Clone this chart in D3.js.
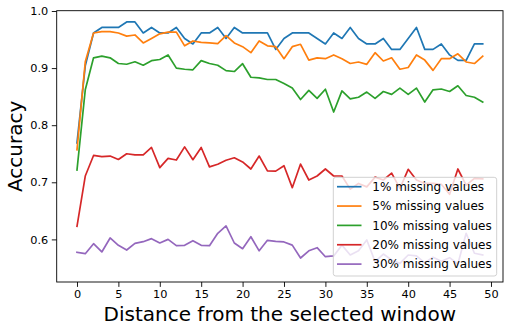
<!DOCTYPE html>
<html>
<head>
<meta charset="utf-8">
<script src="https://cdn.jsdelivr.net/npm/d3@7"></script>
<style>
  body { margin: 0; background: #fff; }
  svg { display: block; font-family: "DejaVu Sans", sans-serif; }
</style>
</head>
<body>
<div id="chartContainer"></div>
<script>
var distance = [0,1,2,3,4,5,6,7,8,9,10,11,12,13,14,15,16,17,18,19,20,21,22,23,24,
                25,26,27,28,29,30,31,32,33,34,35,36,37,38,39,40,41,42,43,44,45,46,47,48,49];

var missing1 = [0.769,0.904,0.9615,0.9712,0.9712,0.9712,0.9808,0.9808,0.9615,0.9712,
                0.9615,0.9615,0.9712,0.9519,0.9423,0.9615,0.9615,0.9712,0.9519,0.9712,
                0.9615,0.9615,0.9615,0.9615,0.9327,0.9519,0.9615,0.9615,0.9615,0.9519,
                0.9423,0.9615,0.9519,0.9712,0.9519,0.9423,0.9423,0.9519,0.9327,0.9327,
                0.9519,0.9712,0.9327,0.9327,0.9423,0.9231,0.9135,0.9135,0.9423,0.9423];
var missing5 = [0.757,0.911,0.9615,0.964,0.964,0.9615,0.956,0.958,0.944,0.952,
                0.960,0.963,0.963,0.939,0.9475,0.945,0.944,0.943,0.957,0.944,
                0.9375,0.927,0.9475,0.939,0.9375,0.9165,0.9375,0.9417,0.914,0.918,
                0.9165,0.923,0.9165,0.908,0.9107,0.9066,0.927,0.9124,0.918,0.898,
                0.901,0.923,0.914,0.896,0.9165,0.9165,0.925,0.9107,0.908,0.921];
var missing10 = [0.7215,0.862,0.918,0.921,0.918,0.908,0.9067,0.911,0.905,0.913,
                 0.915,0.923,0.900,0.898,0.897,0.913,0.908,0.905,0.8955,0.894,
                 0.9077,0.884,0.883,0.880,0.880,0.873,0.865,0.845,0.861,0.847,
                 0.863,0.823,0.860,0.846,0.849,0.858,0.847,0.859,0.854,0.865,
                 0.854,0.865,0.8406,0.862,0.8634,0.859,0.869,0.852,0.849,0.8406];
var missing20 = [0.623,0.711,0.747,0.745,0.746,0.740,0.750,0.748,0.748,0.761,
                 0.7256,0.742,0.739,0.762,0.7396,0.761,0.727,0.7315,0.7385,0.743,
                 0.7356,0.7233,0.746,0.720,0.7195,0.729,0.6906,0.732,0.704,0.711,
                 0.7233,0.711,0.711,0.688,0.698,0.692,0.709,0.704,0.716,0.6895,
                 0.7227,0.704,0.698,0.698,0.6965,0.679,0.7233,0.695,0.707,0.706];
var missing30 = [0.5774,0.575,0.5925,0.578,0.6025,0.5897,0.5814,0.593,0.596,0.6013,
                 0.5937,0.600,0.589,0.5897,0.5977,0.5897,0.589,0.6107,0.6235,0.5937,
                 0.5837,0.6047,0.580,0.5984,0.5967,0.5955,0.590,0.5674,0.580,0.5855,
                 0.5697,0.571,0.590,0.5727,0.580,0.599,0.561,0.5744,0.564,0.558,
                 0.5727,0.571,0.559,0.5687,0.5617,0.568,0.557,0.6107,0.5757,0.5727];

var seriesNames = ["1% missing values", "5% missing values", "10% missing values",
                   "20% missing values", "30% missing values"];
var xTicks = [0, 5, 10, 15, 20, 25, 30, 35, 40, 45, 50];
var yTicks = [0.6, 0.7, 0.8, 0.9, 1.0];

var colors = ["#1f77b4", "#ff7f0e", "#2ca02c", "#d62728", "#9467bd"];
var allSeries = [missing1, missing5, missing10, missing20, missing30];

var width = 509, height = 332;
var plotLeft = 56.7, plotRight = 503, plotTop = 10.7, plotBottom = 282;

var svg = d3.select("#chartContainer").append("svg")
    .attr("width", width)
    .attr("height", height);

var x = d3.scaleLinear().domain([-2.45, 51.45]).range([plotLeft, plotRight]);
var y = d3.scaleLinear().domain([0.5254, 1.0005]).range([plotBottom, plotTop]);

// lines
var line = d3.line()
    .x(function (d, i) { return x(distance[i]); })
    .y(function (d) { return y(d); });

svg.append("g").selectAll("path")
    .data(allSeries)
    .enter().append("path")
    .attr("d", line)
    .attr("fill", "none")
    .attr("stroke", function (d, i) { return colors[i]; })
    .attr("stroke-width", 1.7)
    .attr("stroke-linejoin", "round")
    .attr("stroke-linecap", "square");

// axes
var xAxis = d3.axisBottom(x).tickValues(xTicks).tickSize(4.9).tickPadding(3.5)
    .tickFormat(d3.format("d"));
var yAxis = d3.axisLeft(y).tickValues(yTicks).tickSize(4.9).tickPadding(3.5)
    .tickFormat(d3.format(".1f"));

var gx = svg.append("g")
    .attr("transform", "translate(0," + plotBottom + ")")
    .call(xAxis);
var gy = svg.append("g")
    .attr("transform", "translate(" + plotLeft + ",0)")
    .call(yAxis);

[gx, gy].forEach(function (g) {
    g.select(".domain").remove();
    g.selectAll(".tick line").attr("stroke", "#000").attr("stroke-width", 0.9);
    g.selectAll(".tick text")
        .attr("fill", "#000")
        .style("font-family", "DejaVu Sans")
        .style("font-size", "11.3px");
});

// frame
svg.append("rect")
    .attr("x", plotLeft)
    .attr("y", plotTop)
    .attr("width", plotRight - plotLeft)
    .attr("height", plotBottom - plotTop)
    .attr("fill", "none")
    .attr("stroke", "#000")
    .attr("stroke-width", 0.9);

// axis titles
svg.append("text")
    .attr("x", (plotLeft + plotRight) / 2)
    .attr("y", 321)
    .attr("text-anchor", "middle")
    .style("font-size", "20px")
    .attr("fill", "#000")
    .text("Distance from the selected window");

svg.append("text")
    .attr("transform", "translate(21.5," + ((plotTop + plotBottom) / 2) + ") rotate(-90)")
    .attr("text-anchor", "middle")
    .style("font-size", "20px")
    .attr("fill", "#000")
    .text("Accuracy");

// legend
var legend = svg.append("g");
legend.append("rect")
    .attr("x", 333.3)
    .attr("y", 177.3)
    .attr("width", 163.4)
    .attr("height", 98.7)
    .attr("rx", 2.5)
    .attr("fill", "#fff")
    .attr("fill-opacity", 0.8)
    .attr("stroke", "#cccccc")
    .attr("stroke-width", 0.9);

var rows = legend.selectAll("g.row")
    .data(seriesNames)
    .enter().append("g")
    .attr("class", "row")
    .attr("transform", function (d, i) { return "translate(0," + (186.7 + i * 19.35) + ")"; });

rows.append("line")
    .attr("x1", 337)
    .attr("x2", 361.5)
    .attr("stroke", function (d, i) { return colors[i]; })
    .attr("stroke-width", 1.7);

rows.append("text")
    .attr("x", 372.3)
    .attr("y", 4.3)
    .style("font-size", "12px")
    .attr("fill", "#000")
    .text(function (d) { return d; });
</script>
</body>
</html>
